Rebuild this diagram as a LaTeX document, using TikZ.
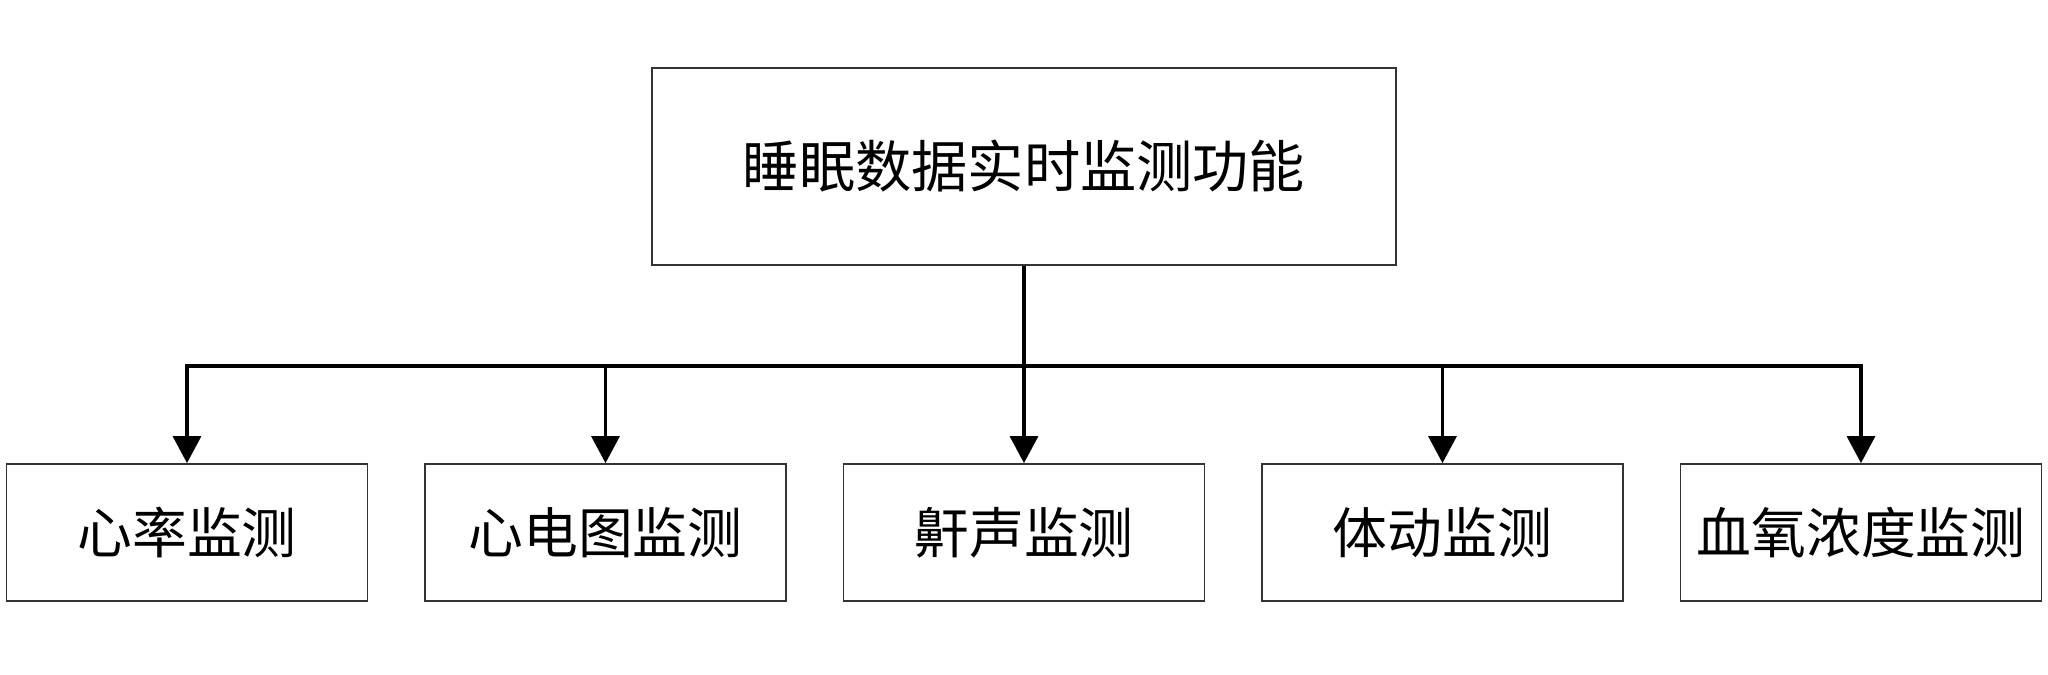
\documentclass[tikz,border=0pt]{standalone}
\usepackage{fontspec}
\setmainfont{Noto Sans CJK SC}
\usetikzlibrary{arrows.meta}

\tikzset{
    mainbox/.style={draw=black!80, line width=0.5pt, minimum width=7.44cm, minimum height=1.97cm, font=\fontsize{16pt}{19pt}\selectfont},
    subbox/.style={draw=black!80, line width=0.5pt, minimum width=3.61cm, minimum height=1.37cm, font=\fontsize{15.6pt}{18pt}\selectfont},
    conn/.style={line width=0.9pt, -{Triangle[length=7.7pt,width=8pt]}}
}

\begin{document}
\begin{tikzpicture}
        \useasboundingbox (0,0) rectangle (20.48,6.75);

        \node[mainbox] (top) at (10.24,5.085) {睡眠数据实时监测功能};
        \coordinate (bar) at (0,3.09);

        \foreach \i/\txt [count=\k from 0] in {1/心率监测, 2/心电图监测, 3/鼾声监测, 4/体动监测, 5/血氧浓度监测} {
            \node[subbox] (m\i) at (1.87+\k*4.185,1.425) {\txt};
            \draw[conn] (top.south) -- (top.south |- bar) -| (m\i.north);
        }
    \end{tikzpicture}
\end{document}
